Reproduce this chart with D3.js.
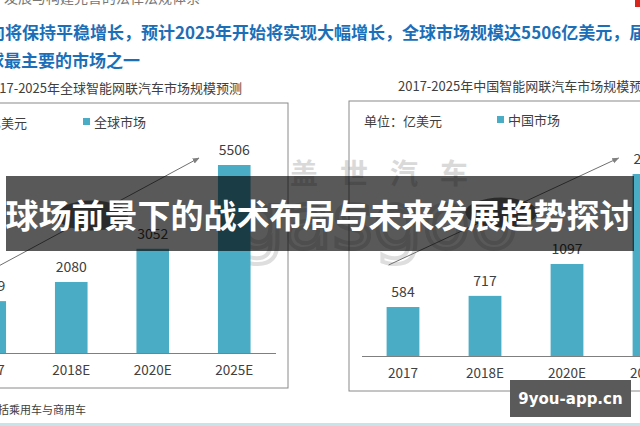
<!DOCTYPE html>
<html>
<head>
<meta charset="utf-8">
<script src="https://cdn.jsdelivr.net/npm/d3@7"></script>
<style>
  body { margin: 0; background: #fff; }
  svg { display: block; font-family: "Noto Sans CJK SC", "Noto Sans", sans-serif; }
</style>
</head>
<body>
<svg id="slide" width="640" height="426"></svg>
<script>
// data
var categories = ["2017", "2018E", "2020E", "2025E"];
var globalValues = [1519, 2080, 3052, 5506];
var chinaValues = [584, 717, 1097, 2170];
var globalTitle = "2017-2025年全球智能网联汽车市场规模预测";
var chinaTitle = "2017-2025年中国智能网联汽车市场规模预测";
var unitLabel = "单位：亿美元";
var headLines = ["向将保持平稳增长，预计2025年开始将实现大幅增长，全球市场规模达5506亿美元，届", "全球最主要的市场之一"];
var bannerText = "球场前景下的战术布局与未来发展趋势探讨";

var barColor = "#4bacc6", textColor = "#404040";

var svg = d3.select("#slide");

// top texts
svg.append("text").attr("x", 200).attr("y", 3)
  .attr("text-anchor", "end").attr("font-size", 14).attr("fill", "#777")
  .text("发展与构建完善的法律法规体系");
svg.append("rect").attr("x", 635).attr("y", 0).attr("width", 5).attr("height", 7).attr("fill", "#d9261c");

svg.append("text").attr("x", -12).attr("y", 39)
  .attr("font-size", 17).attr("font-weight", "bold").attr("fill", "#1b6fb8")
  .text(headLines[0]);
svg.append("text").attr("x", -30).attr("y", 67)
  .attr("font-size", 17).attr("font-weight", "bold").attr("fill", "#1b6fb8")
  .text(headLines[1]);

// watermark
var wm = svg.append("g").attr("fill", "#d9d9d9");
wm.append("text").attr("x", 290).attr("y", 184).attr("font-size", 28).attr("font-weight", "bold")
  .attr("letter-spacing", 22).text("盖世汽车");
wm.append("text").attr("x", 235).attr("y", 248).attr("font-size", 78)
  .attr("font-family", "DejaVu Sans").attr("fill", "none").attr("stroke", "#dedede").attr("stroke-width", 4)
  .text("gasgoo");

function drawChart(cfg) {
  var g = svg.append("g");

  g.append("rect")
    .attr("x", cfg.box[0]).attr("y", cfg.box[1])
    .attr("width", cfg.box[2]).attr("height", cfg.box[3])
    .attr("fill", "none").attr("stroke", "#8a8a8a").attr("stroke-width", 1);

  var x = d3.scaleBand().domain(categories).range(cfg.xRange)
    .paddingInner(0.6).paddingOuter(0.3);
  var y = d3.scaleLinear().domain([0, cfg.refValue]).range([cfg.base, cfg.refTop]);

  g.selectAll(".bar").data(cfg.values).enter().append("rect")
    .attr("class", "bar")
    .attr("x", function(d, i) { return x(categories[i]); })
    .attr("y", function(d) { return y(d); })
    .attr("width", x.bandwidth())
    .attr("height", function(d) { return y(0) - y(d); })
    .attr("fill", barColor);

  g.selectAll(".val").data(cfg.values).enter().append("text")
    .attr("class", "val")
    .attr("x", function(d, i) { return x(categories[i]) + x.bandwidth() / 2; })
    .attr("y", function(d) { return y(d) - 10; })
    .attr("text-anchor", "middle").attr("font-size", 14).attr("fill", textColor)
    .text(function(d) { return d; });

  // axis line + labels
  var axis = g.append("g").attr("transform", "translate(0," + y(0) + ")")
    .call(d3.axisBottom(x).tickSize(0).tickPadding(cfg.tickPad));
  axis.select(".domain").attr("stroke", "#7f7f7f").attr("d", "M" + cfg.xRange[0] + ",0.5H" + cfg.axisEnd);
  axis.selectAll("text").attr("font-size", 13.5).attr("fill", textColor)
    .attr("font-family", "Noto Sans CJK SC, sans-serif");

  g.append("text").attr("x", cfg.titleX).attr("y", cfg.box[1] - 10)
    .attr("text-anchor", cfg.titleAnchor).attr("font-size", 13).attr("fill", textColor)
    .text(cfg.title);
  g.append("text").attr("x", cfg.unitX).attr("y", cfg.box[1] + 25)
    .attr("text-anchor", cfg.unitAnchor).attr("font-size", 13).attr("fill", textColor)
    .text(unitLabel);
  g.append("rect").attr("x", cfg.legendX).attr("y", cfg.box[1] + 15)
    .attr("width", 7).attr("height", 7).attr("fill", barColor);
  g.append("text").attr("x", cfg.legendX + 11).attr("y", cfg.box[1] + 24)
    .attr("font-size", 13).attr("fill", textColor).text(cfg.legend);

  // growth arrow with oval label
  var a = cfg.arrow;
  var defsId = "ah" + cfg.legendX;
  svg.append("defs").append("marker").attr("id", defsId)
    .attr("viewBox", "0 0 10 10").attr("refX", 9).attr("refY", 5)
    .attr("markerWidth", 7).attr("markerHeight", 7).attr("orient", "auto")
    .append("path").attr("d", "M0,1L10,5L0,9Z").attr("fill", "#7f7f7f");
  var x1 = x(categories[0]) + a[0], y1 = y(cfg.values[0]) + a[1];
  var x2 = x(categories[3]) + a[2], y2 = y(cfg.values[3]) + a[3];
  g.append("line").attr("x1", x1).attr("y1", y1).attr("x2", x2).attr("y2", y2)
    .attr("stroke", "#6f6f6f").attr("stroke-width", 1).attr("marker-end", "url(#" + defsId + ")");
  var t = cfg.ovalAt;
  g.append("ellipse").attr("cx", x1 + (x2 - x1) * t).attr("cy", y1 + (y2 - y1) * t)
    .attr("rx", 36).attr("ry", 15).attr("fill", "#7a7a7a");
}

drawChart({
  box: [-20, 103, 308, 285], values: globalValues, refValue: 5506, refTop: 165, base: 353,
  xRange: [-51, 275], axisEnd: 276, tickPad: 12,
  title: globalTitle, titleX: 242, titleAnchor: "end",
  unitX: 27, unitAnchor: "end", legendX: 83, legend: "全球市场",
  arrow: [12, -28, -19, -7], ovalAt: 0.5
});
drawChart({
  box: [349, 101, 320, 290], values: chinaValues, refValue: 1097, refTop: 264, base: 356,
  xRange: [362, 690], axisEnd: 700, tickPad: 12,
  title: chinaTitle, titleX: 398, titleAnchor: "start",
  unitX: 364, unitAnchor: "start", legendX: 497, legend: "中国市场",
  arrow: [2, -42, -14, -16], ovalAt: 0.49
});

// footnote and bottom band
svg.append("text").attr("x", 86).attr("y", 414).attr("text-anchor", "end")
  .attr("font-size", 11).attr("fill", textColor).text("包括乘用车与商用车");
svg.append("rect").attr("x", 0).attr("y", 423).attr("width", 640).attr("height", 3).attr("fill", "#c6e5ea");

// overlay banner
svg.append("rect").attr("x", 6).attr("y", 176).attr("width", 628).attr("height", 75)
  .attr("fill", "#000").attr("fill-opacity", 0.65);
svg.append("text").attr("x", 319).attr("y", 214)
  .attr("text-anchor", "middle").attr("dominant-baseline", "central")
  .attr("font-size", 33).attr("font-weight", "bold").attr("fill", "#fff")
  .text(bannerText);

// site tag
svg.append("rect").attr("x", 510).attr("y", 380).attr("width", 121).attr("height", 37).attr("fill", "#5a5a5a");
svg.append("text").attr("x", 570.5).attr("y", 399).attr("text-anchor", "middle")
  .attr("dominant-baseline", "central").attr("font-family", "DejaVu Sans").attr("font-weight", "bold")
  .attr("font-size", 15).attr("fill", "#fff").text("9you-app.cn");
</script>
</body>
</html>
